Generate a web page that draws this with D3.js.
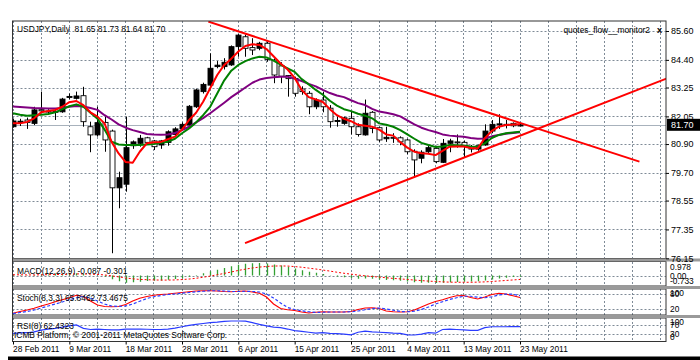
<!DOCTYPE html>
<html><head><meta charset="utf-8">
<script src="https://cdn.jsdelivr.net/npm/d3@7"></script>
<style>
body{margin:0;background:#fff}
svg{display:block}
text{font-family:"Liberation Sans",Arial,sans-serif;fill:#000}
</style>
</head><body>
<svg id="chart" width="700" height="360"></svg>
<script>
// ---------------- DATA ----------------
const dateLabels = ["28 Feb 2011","9 Mar 2011","18 Mar 2011","28 Mar 2011","6 Apr 2011","15 Apr 2011","25 Apr 2011","4 May 2011","13 May 2011","23 May 2011"];
const priceTicks = [85.60,84.40,83.25,82.05,80.90,79.70,78.55,77.35,76.15];
const lastPrice = 81.70;

const open  = [81.62,81.80,81.90,81.76,82.33,82.27,82.26,82.24,82.85,82.80,82.91,81.62,81.28,81.80,81.44,79.08,79.23,80.83,80.93,81.16,81.03,80.86,80.97,81.30,81.53,81.69,82.45,83.08,83.35,84.12,84.12,84.19,84.95,85.36,84.91,84.88,85.09,84.39,84.15,83.75,83.63,83.19,83.01,82.45,82.73,82.39,81.85,81.76,81.97,81.62,81.28,82.22,81.58,81.12,81.18,81.16,81.07,80.60,80.31,80.58,80.72,80.14,80.93,80.99,80.97,80.79,80.69,80.86,81.44,81.70,81.72,81.76,81.65];
const high  = [81.94,81.95,82.00,82.45,83.08,82.35,82.38,82.82,83.00,83.08,83.28,81.83,82.45,82.04,81.50,79.75,82.04,81.05,81.28,81.20,81.07,81.07,81.47,81.60,81.80,82.52,83.20,83.45,84.67,84.35,84.47,85.00,85.47,85.45,85.30,85.15,85.16,84.46,84.30,83.77,83.70,83.30,83.10,82.80,83.08,82.52,82.04,82.04,82.27,81.76,82.75,82.27,81.62,81.62,81.35,81.22,81.12,80.68,80.64,80.83,80.83,81.11,81.12,81.30,81.05,80.86,80.88,81.72,81.90,82.14,81.90,81.80,81.73];
const low   = [81.58,81.65,81.53,81.69,82.20,82.15,81.90,82.20,82.75,82.75,81.62,80.56,81.21,80.58,76.36,78.23,78.92,80.70,80.79,80.90,80.65,80.70,80.83,81.24,81.45,81.62,82.40,83.00,83.30,84.05,84.00,84.15,84.53,84.53,84.60,84.80,84.32,83.43,83.43,82.87,82.87,82.95,82.14,82.35,82.22,81.58,81.62,81.70,81.30,81.21,81.25,81.35,80.99,80.99,80.95,80.85,80.48,79.54,80.10,80.48,80.10,80.11,80.56,80.75,80.33,80.55,80.62,80.83,81.35,81.53,81.55,81.60,81.64];
const close = [81.86,81.85,81.80,82.32,82.28,82.25,82.22,82.77,82.88,82.90,81.83,81.28,81.79,81.07,79.08,79.50,80.75,80.99,81.14,80.97,80.79,81.03,81.41,81.53,81.72,82.47,83.15,83.38,84.05,84.18,84.30,84.95,85.43,84.88,84.81,85.09,84.42,83.77,83.72,83.62,83.01,83.08,82.45,82.73,82.45,81.83,81.88,81.99,81.62,81.30,82.18,81.55,81.07,81.18,81.15,80.99,80.58,80.24,80.56,80.75,80.17,80.93,81.03,80.97,80.83,80.69,80.83,81.44,81.72,81.74,81.68,81.66,81.70];

const maFast = [81.76,81.76,81.82,81.97,82.22,82.27,82.32,82.45,82.64,82.69,82.52,82.22,82.04,81.76,80.99,80.51,80.15,80.12,80.58,80.93,80.97,80.99,81.10,81.21,81.50,81.90,82.20,82.66,83.22,83.77,84.19,84.45,84.75,84.98,85.05,85.02,84.85,84.55,84.25,84.00,83.65,83.15,82.85,82.75,82.65,82.35,82.10,81.95,81.85,81.70,81.66,81.62,81.50,81.30,81.25,80.98,80.75,80.58,80.52,80.50,80.44,80.62,80.79,80.80,80.80,80.74,80.72,81.14,81.45,81.62,81.69,81.71,81.72];
const maMid  = [82.18,82.12,82.08,82.10,82.12,82.15,82.22,82.35,82.47,82.55,82.45,82.20,81.95,81.50,81.00,80.88,80.86,80.86,80.86,80.88,80.90,80.95,81.00,81.12,81.35,81.55,81.80,82.10,82.45,83.00,83.55,83.95,84.19,84.35,84.46,84.53,84.50,84.37,84.20,84.05,83.90,83.60,83.38,83.15,82.95,82.70,82.50,82.35,82.27,82.16,82.08,81.97,81.76,81.70,81.62,81.48,81.30,81.12,80.95,80.86,80.78,80.80,80.86,80.85,80.84,80.80,80.79,80.93,81.15,81.28,81.35,81.38,81.41];
const maSlow = [82.46,82.44,82.42,82.40,82.39,82.38,82.38,82.40,82.45,82.48,82.46,82.40,82.32,82.10,81.92,81.72,81.58,81.48,81.40,81.32,81.30,81.29,81.30,81.36,81.48,81.62,81.80,81.98,82.18,82.40,82.62,82.85,83.05,83.25,83.45,83.58,83.65,83.68,83.70,83.70,83.62,83.52,83.40,83.30,83.15,83.02,82.92,82.85,82.72,82.60,82.52,82.36,82.25,82.20,82.14,82.05,81.88,81.72,81.58,81.48,81.40,81.30,81.25,81.22,81.20,81.15,81.12,81.13,81.22,81.28,81.33,81.36,81.39];

// trend lines: [bar index, price] end points
const trendDown = [[27.74,85.99],[88.96,80.17]];
const trendUp   = [[32.95,76.78],[92.85,83.63]];

const macdMain = [0.05,0.04,0.03,0.05,0.08,0.09,0.10,0.13,0.17,0.19,0.12,0.03,-0.02,-0.10,-0.28,-0.45,-0.55,-0.52,-0.48,-0.42,-0.40,-0.38,-0.33,-0.27,-0.20,-0.10,0.05,0.18,0.33,0.45,0.58,0.72,0.85,0.92,0.95,0.97,0.93,0.86,0.78,0.68,0.55,0.42,0.30,0.22,0.13,0.02,-0.07,-0.13,-0.18,-0.24,-0.22,-0.25,-0.30,-0.34,-0.36,-0.40,-0.46,-0.52,-0.55,-0.56,-0.58,-0.55,-0.52,-0.50,-0.48,-0.47,-0.45,-0.38,-0.30,-0.22,-0.16,-0.12,-0.087];
const macdSignal = [0.06,0.06,0.05,0.05,0.06,0.07,0.08,0.09,0.11,0.13,0.13,0.11,0.09,0.05,-0.02,-0.10,-0.19,-0.25,-0.30,-0.32,-0.34,-0.35,-0.35,-0.34,-0.31,-0.27,-0.21,-0.13,-0.04,0.06,0.17,0.28,0.40,0.50,0.59,0.66,0.71,0.74,0.75,0.74,0.70,0.65,0.58,0.51,0.43,0.35,0.26,0.18,0.11,0.04,-0.02,-0.07,-0.12,-0.17,-0.22,-0.26,-0.30,-0.35,-0.39,-0.43,-0.46,-0.49,-0.51,-0.52,-0.52,-0.52,-0.51,-0.49,-0.46,-0.42,-0.38,-0.34,-0.301];
const stochMain = [3,10,16,23,32,40,49,57,65,75,70,52,36,30,29,30,38,52,63,70,75,78,80,83,86,89,92,93,93,92,90,89,91,92,88,83,68,40,22,17,14,8,4,7,9,8,8,8,10,18,24,25,22,12,9,8,9,16,28,40,50,57,66,73,74,66,60,68,78,83,80,73,65.85];
const stochSignal = [2,6,10,16,24,32,40,48,57,65,70,64,52,40,32,30,32,40,51,62,69,74,78,80,83,86,89,91,93,93,92,90,90,91,90,88,80,64,44,26,18,13,9,6,7,8,8,8,9,12,17,22,24,20,15,10,9,11,18,28,40,49,58,65,71,71,67,65,69,76,80,79,73.47];
const rsi = [33,35,36,40,47,52,55,60,66,70,55,50,52,50,48,48,52,52,52,51,50,50,52,56,62,68,72,76,80,82,85,87,87,86,80,72,66,60,58,52,45,42,38,34,36,33,32,30,27,38,43,40,38,36,34,33,27,26,30,36,34,50,52,50,48,46,46,58,62,62,62,63,62.43];

// ---------------- LAYOUT ----------------
const svg = d3.select("#chart");
const Lx = 12.5, Rx = 666;
const mainP  = {top:21,  bottom:258.5};
const macdP  = {top:261.5, bottom:286};
const stochP = {top:289, bottom:315};
const rsiP   = {top:318, bottom:341.5};
const gridColor = "#7f8b97";

const n = close.length;
const x = d3.scaleLinear().domain([0, 72]).range([13, 520]);
const yMain = d3.scaleLinear().domain([76.15, 85.60]).range([258.3, 31]);
const yMacd = d3.scaleLinear().domain([-0.733, 0.978]).range([285, 263]);
const yStoch = d3.scaleLinear().domain([0, 100]).range([314, 289]);
const yRsi = d3.scaleLinear().domain([0, 100]).range([341, 318]);

svg.append("rect").attr("width",700).attr("height",360).attr("fill","#fff");

// clip paths
const defs = svg.append("defs");
function clip(id,p){defs.append("clipPath").attr("id",id).append("rect").attr("x",Lx).attr("y",p.top).attr("width",Rx-Lx).attr("height",p.bottom-p.top);}
clip("cMain",mainP); clip("cMacd",macdP); clip("cSto",stochP); clip("cRsi",rsiP);

const gridIdx = d3.range(0, 93, 4);
function vgrid(p){
  svg.append("g").selectAll("line").data(gridIdx).join("line")
    .attr("x1",d=>x(d)).attr("x2",d=>x(d)).attr("y1",p.top).attr("y2",p.bottom)
    .attr("stroke",gridColor).attr("stroke-width",1).attr("stroke-dasharray","2,2")
    .attr("shape-rendering","crispEdges");
}
function hgrid(vals,scale){
  svg.append("g").selectAll("line").data(vals).join("line")
    .attr("x1",Lx).attr("x2",Rx).attr("y1",d=>Math.round(scale(d))+0.5).attr("y2",d=>Math.round(scale(d))+0.5)
    .attr("stroke",gridColor).attr("stroke-width",1).attr("stroke-dasharray","2,2");
}
[mainP,macdP,stochP,rsiP].forEach(vgrid);
hgrid(priceTicks,yMain);
hgrid([0],yMacd);
hgrid([20,80],yStoch);
hgrid([30,70],yRsi);

// bid line
svg.append("line").attr("x1",Lx).attr("x2",Rx)
  .attr("y1",Math.round(yMain(lastPrice))+0.5).attr("y2",Math.round(yMain(lastPrice))+0.5)
  .attr("stroke","#a8b2bc").attr("stroke-width",1);

// ---------------- MAIN: candles ----------------
const gMain = svg.append("g").attr("clip-path","url(#cMain)");
const idx = d3.range(n);
gMain.append("g").selectAll("line").data(idx).join("line")
  .attr("x1",i=>Math.round(x(i))+0.5).attr("x2",i=>Math.round(x(i))+0.5)
  .attr("y1",i=>yMain(high[i])).attr("y2",i=>yMain(low[i]))
  .attr("stroke","#000").attr("stroke-width",1);
gMain.append("g").selectAll("rect").data(idx).join("rect")
  .attr("x",i=>Math.round(x(i))-2)
  .attr("y",i=>yMain(Math.max(open[i],close[i])))
  .attr("width",5)
  .attr("height",i=>Math.max(1,Math.abs(yMain(open[i])-yMain(close[i]))))
  .attr("fill",i=>close[i]>=open[i]?"#000":"#fff")
  .attr("stroke","#000").attr("stroke-width",0.9);

// moving averages
function maLine(arr,color){
  gMain.append("path").datum(arr)
    .attr("d",d3.line().x((d,i)=>x(i)).y(d=>yMain(d)))
    .attr("fill","none").attr("stroke",color).attr("stroke-width",2).attr("stroke-linejoin","round");
}
maLine(maSlow,"#800080");
maLine(maMid,"#008000");
maLine(maFast,"#ff0000");

// trend lines
[trendDown,trendUp].forEach(t=>{
  gMain.append("path").datum(t)
    .attr("d",d3.line().x(d=>x(d[0])).y(d=>yMain(d[1])))
    .attr("stroke","#ff0000").attr("stroke-width",2).attr("fill","none");
});

// ---------------- MACD ----------------
const gMacd = svg.append("g").attr("clip-path","url(#cMacd)");
gMacd.append("g").selectAll("line").data(idx).join("line")
  .attr("x1",i=>Math.round(x(i))+0.5).attr("x2",i=>Math.round(x(i))+0.5)
  .attr("y1",yMacd(0)).attr("y2",i=>yMacd(macdMain[i]))
  .attr("stroke","#33a033").attr("stroke-width",1.3);
gMacd.append("path").datum(macdSignal)
  .attr("d",d3.line().x((d,i)=>x(i)).y(d=>yMacd(d)))
  .attr("fill","none").attr("stroke","#ff0000").attr("stroke-width",1).attr("stroke-dasharray","2,2");

// ---------------- STOCH ----------------
const gSto = svg.append("g").attr("clip-path","url(#cSto)");
gSto.append("path").datum(stochMain)
  .attr("d",d3.line().x((d,i)=>x(i)).y(d=>yStoch(d)))
  .attr("fill","none").attr("stroke","#ff0000").attr("stroke-width",1.2);
gSto.append("path").datum(stochSignal)
  .attr("d",d3.line().x((d,i)=>x(i)).y(d=>yStoch(d)))
  .attr("fill","none").attr("stroke","#2a3cff").attr("stroke-width",1.2).attr("stroke-dasharray","3,2");

// ---------------- RSI ----------------
const gRsi = svg.append("g").attr("clip-path","url(#cRsi)");
gRsi.append("path").datum(rsi)
  .attr("d",d3.line().x((d,i)=>x(i)).y(d=>yRsi(d)))
  .attr("fill","none").attr("stroke","#2a3cff").attr("stroke-width",1.2);

// ---------------- FRAMES ----------------
function frame(p){
  svg.append("rect").attr("x",Lx).attr("y",p.top).attr("width",Rx-Lx).attr("height",p.bottom-p.top)
    .attr("fill","none").attr("stroke","#333").attr("stroke-width",1);
}
[mainP,macdP,stochP,rsiP].forEach(frame);
// separators
[[mainP.bottom,macdP.top],[macdP.bottom,stochP.top],[stochP.bottom,rsiP.top]].forEach(s=>{
  svg.append("rect").attr("x",Lx).attr("y",s[0]).attr("width",700-Lx).attr("height",s[1]-s[0]).attr("fill","#9a9a9a");
});
svg.append("line").attr("x1",Lx).attr("x2",Lx).attr("y1",mainP.top).attr("y2",rsiP.bottom).attr("stroke","#333");

// ---------------- AXES ----------------
const fs = "8.4px";
const yAxis = svg.append("g").attr("transform",`translate(${Rx},0)`)
  .call(d3.axisRight(yMain).tickValues(priceTicks).tickFormat(d3.format(".2f")).tickSize(3).tickPadding(2));
yAxis.select(".domain").remove();
yAxis.selectAll("text").style("font-size","9px").attr("fill","#000");

// last price box
const lp = yMain(lastPrice);
svg.append("rect").attr("x",Rx+1).attr("y",lp-6).attr("width",33).attr("height",12).attr("fill","#000");
svg.append("text").attr("x",Rx+5).attr("y",lp+3.5).text(d3.format(".2f")(lastPrice))
  .style("font-size","9px").style("fill","#fff");

// sub-panel scale labels
function rlabel(v,yy){svg.append("text").attr("x",Rx+4).attr("y",yy).text(v).style("font-size",fs);}
rlabel("0.978", yMacd(0.978)+7);
rlabel("0.00", yMacd(0)+3);
rlabel("-0.733", yMacd(-0.733)-1);
rlabel("100", yStoch(100)+7);
rlabel("80", yStoch(80)+3);
rlabel("20", yStoch(20)+3);
rlabel("100", yRsi(100)+7);
rlabel("70", yRsi(70)+3);
rlabel("30", yRsi(30)+3);
rlabel("0", yRsi(0)-1);

const xAxis = svg.append("g").attr("transform",`translate(0,${rsiP.bottom})`)
  .call(d3.axisBottom(x).tickValues(d3.range(0,73,8)).tickFormat((d,i)=>dateLabels[i]).tickSize(3).tickPadding(2));
xAxis.select(".domain").remove();
xAxis.selectAll("text").style("font-size",fs).attr("text-anchor","start").attr("dx","-0.5").attr("fill","#000");

// ---------------- TEXTS ----------------
svg.append("text").attr("x",17).attr("y",31.5).text("USDJPY,Daily  81.65 81.73 81.64 81.70").style("font-size",fs).attr("xml:space","preserve");
svg.append("text").attr("x",650).attr("y",33).attr("text-anchor","end").text("quotes_flow__monitor2").style("font-size",fs);
svg.append("text").attr("x",657).attr("y",33).text("x").style("font-size","9px").style("font-weight","bold");
svg.append("text").attr("x",17).attr("y",274).text("MACD(12,26,9) -0.087 -0.301").style("font-size",fs);
svg.append("text").attr("x",17).attr("y",300.5).text("Stoch(8,3,3) 65.8462 73.4675").style("font-size",fs);
svg.append("text").attr("x",17).attr("y",328.5).text("RSI(8) 62.4323").style("font-size",fs);
svg.append("text").attr("x",14).attr("y",337.5).text("ICMB Platform, © 2001-2011 MetaQuotes Software Corp.").style("font-size",fs);

// bottom bar
svg.append("rect").attr("x",8).attr("y",356.5).attr("width",692).attr("height",3.5).attr("fill","#000");
</script>
</body></html>
